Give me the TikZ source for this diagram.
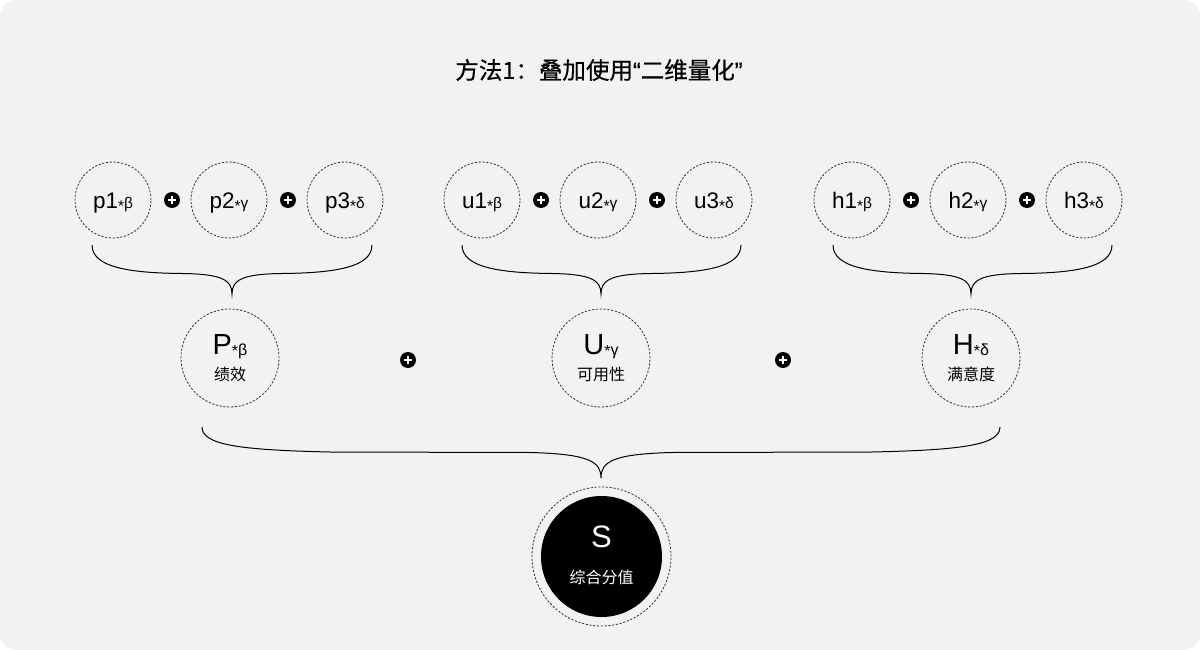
\documentclass[tikz,border=0pt]{standalone}
\usepackage{fontspec}
\setmainfont{Noto Sans CJK SC}
\newfontfamily\latinf{Liberation Sans}
\newfontfamily\titlef[FakeBold=0.5]{Noto Sans CJK SC}
\newfontfamily\quotef[FakeBold=0.5]{Liberation Sans}
\definecolor{bg}{HTML}{F2F2F2}
\definecolor{ln}{HTML}{333333}
\tikzset{
  dcirc/.style={circle,draw=ln,line width=0.8pt,dash pattern=on 2.2pt off 1.6pt,minimum size=#1,inner sep=0pt},
  plusc/.style={circle,fill=black,minimum size=16pt,inner sep=0pt},
  brace/.style={draw=black,line width=1pt},
  small/.style={font=\latinf\fontsize{22.5}{24}\selectfont},
  big/.style={font=\latinf\fontsize{29}{30}\selectfont},
  lab/.style={font=\fontsize{16}{18}\selectfont},
}
\newcommand{\subx}[1]{{\fontsize{15.5}{15}\selectfont\raisebox{-3.5pt}{*}#1}}
\newcommand{\subb}[1]{\raisebox{-1.5pt}{\fontsize{16}{16}\selectfont\raisebox{-1pt}{*}#1}}
\newcommand{\plusmark}[1]{\draw[white,line width=2pt] ([xshift=-4pt]#1.center) -- ([xshift=4pt]#1.center) ([yshift=-4pt]#1.center) -- ([yshift=4pt]#1.center);}
\begin{document}
\begin{tikzpicture}[x=1pt,y=-1pt]
\useasboundingbox (0,0) rectangle (1200,650);
\fill[white] (0,0) rectangle (1200,650);
\fill[bg,rounded corners=16pt] (0,0) rectangle (1200,650);
\node[font=\titlef\fontsize{23.5}{26}\selectfont] (title) at (599,70) {方法1：叠加使用{\quotef “}二维量化{\quotef ”}};
% small circles
\foreach \n/\x/\t/\g in {p1/113/p1/β, p2/229/p2/γ, p3/345/p3/δ, u1/482/u1/β, u2/598/u2/γ, u3/714/u3/δ, h1/852/h1/β, h2/968/h2/γ, h3/1084/h3/δ}{
  \node[dcirc=76pt] (\n) at (\x,200) {};
  \node[small,anchor=base] (\n t) at (\x,208) {\t\subx{\g}};
}
\foreach \n/\x/\y in {a1/172/200,a2/288/200,b1/541/200,b2/657/200,c1/911/200,c2/1027/200,m1/408/360,m2/783/360}{
  \node[plusc] (\n) at (\x,\y) {};
  \plusmark{\n}
}
% braces
\foreach \l/\r/\c in {92/372/232,462/741/601,833/1112/971}{
  \coordinate (bl) at (\l,245);
  \coordinate (br) at (\r,245);
  \coordinate (bt) at (\c,294);
  \draw[brace] (bl) .. controls (\l,268) and (\l+40,273) .. (\l+90,273.5) -- (\c-50,273.5) .. controls (\c-10,274) and (\c,280) .. (bt) .. controls (\c,280) and (\c+10,274) .. (\c+50,273.5) -- (\r-90,273.5) .. controls (\r-40,273) and (\r,268) .. (br);
}
% middle circles
\node[dcirc=98pt] (P) at (230,358) {};
\node[dcirc=98pt] (U) at (601,358) {};
\node[dcirc=98pt] (H) at (971,358) {};
\node[big,anchor=base] (Pt) at (230,354) {P\subb{β}};
\node[big,anchor=base] (Ut) at (601,354) {U\subb{γ}};
\node[big,anchor=base] (Ht) at (971,354) {H\subb{δ}};
\node[lab] (Pl) at (230,374) {绩效};
\node[lab] (Ul) at (601,374) {可用性};
\node[lab] (Hl) at (971,374) {满意度};
% big brace
\coordinate (Bl) at (202,427);
\coordinate (Br) at (1000,427);
\coordinate (Bt) at (601,478);
\draw[brace] (Bl) .. controls (202,445) and (240,450) .. (330,452) -- (530,452.5) .. controls (590,454) and (601,462) .. (Bt) .. controls (601,462) and (612,454) .. (672,452.5) -- (872,452) .. controls (962,450) and (1000,445) .. (Br);
% S
\node[dcirc=139pt] (So) at (601.5,556.5) {};
\node[circle,fill=black,minimum size=121pt,inner sep=0pt] (S) at (601.5,556.5) {};
\node[white,font=\latinf\fontsize{31}{32}\selectfont] (St) at (601.5,537) {S};
\node[white,lab] (Sl) at (601.5,577) {综合分值};
\end{tikzpicture}
\end{document}
